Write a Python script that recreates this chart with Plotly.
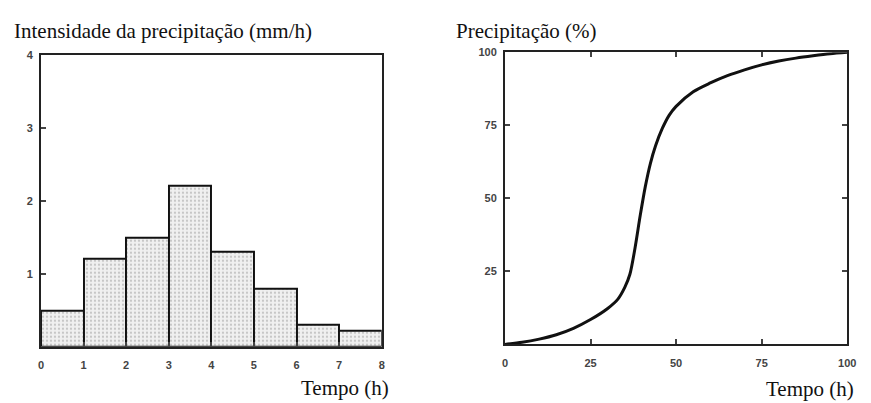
import plotly.graph_objects as go

# Histogram data (left panel)
hour_start = [0, 1, 2, 3, 4, 5, 6, 7]
intensity = [0.5, 1.2, 1.5, 2.2, 1.3, 0.8, 0.3, 0.22]

# Cumulative curve (right panel)
tempo = [0, 5, 10, 15, 20, 25, 30, 33, 35, 36.5, 38, 39.5, 41, 42.5, 44, 46, 48, 50,
         55, 60, 65, 70, 75, 80, 85, 90, 95, 100]
precip = [0, 0.7, 1.8, 3.3, 5.5, 8.5, 12.3, 15.5, 19.5, 24, 33, 44, 54, 62, 68, 74, 78.5, 81.5,
          86.5, 89.5, 92, 94, 95.7, 97, 98, 98.8, 99.5, 100]

left_xticks = [0, 1, 2, 3, 4, 5, 6, 7, 8]
left_yticks = [1, 2, 3, 4]
right_xticks = [0, 25, 50, 75, 100]
right_yticks = [25, 50, 75, 100]

W, H = 871, 403
serif = "Liberation Serif, Times New Roman, serif"
sans = "Liberation Sans, Arial, sans-serif"

fig = go.Figure()

fig.add_trace(go.Bar(
    x=[h + 0.5 for h in hour_start], y=intensity, width=1,
    marker=dict(color="#f0f0f0", line=dict(color="#111", width=2),
                pattern=dict(shape=".", fgcolor="#9a9a9a", size=4, solidity=0.25)),
    xaxis="x", yaxis="y", showlegend=False, hoverinfo="skip"))

fig.add_trace(go.Scatter(
    x=tempo, y=precip, mode="lines", line=dict(color="#111", width=3, shape="spline", smoothing=0.8),
    xaxis="x2", yaxis="y2", showlegend=False, hoverinfo="skip"))

axis_common = dict(showline=True, linecolor="#222", linewidth=2, showgrid=False,
                   zeroline=False, tickfont=dict(family=sans, size=11, color="#444", weight="bold"),
                   tickcolor="#444", ticklen=5, tickwidth=1.5, ticks="inside")

fig.update_layout(
    width=W, height=H, margin=dict(l=0, r=0, t=0, b=0),
    paper_bgcolor="white", plot_bgcolor="white", bargap=0,
    xaxis=dict(domain=[38.5 / W, 384 / W], range=[0, 8], tickvals=left_xticks,
               anchor="y", mirror=True, ticklabelstandoff=7, **axis_common),
    yaxis=dict(domain=[1 - 346 / H, 1 - 49.5 / H], range=[0, 4], tickvals=left_yticks,
               anchor="x", mirror=True, ticklabelstandoff=4, **axis_common),
    xaxis2=dict(domain=[509 / W, 856 / W], range=[0, 100], tickvals=right_xticks,
                anchor="y2", mirror="ticks", ticklabelstandoff=7, **axis_common),
    yaxis2=dict(domain=[1 - 343.5 / H, 1 - 47 / H], range=[0, 100], tickvals=right_yticks,
                anchor="x2", mirror="ticks", ticklabelstandoff=4, **axis_common),
)

def txt(s, x, y, xanchor, size):
    fig.add_annotation(text=s, x=x / W, y=1 - y / H, xref="paper", yref="paper",
                       xanchor=xanchor, yanchor="middle", showarrow=False,
                       font=dict(family=serif, size=size, color="#111"))

txt("Intensidade da precipitação (mm/h)", 9, 25, "left", 21)
txt("Precipitação (%)", 457, 25, "left", 21)
txt("Tempo (h)", 393, 388, "right", 21)
txt("Tempo (h)", 865, 389, "right", 21)

fig.write_html("out.html")
